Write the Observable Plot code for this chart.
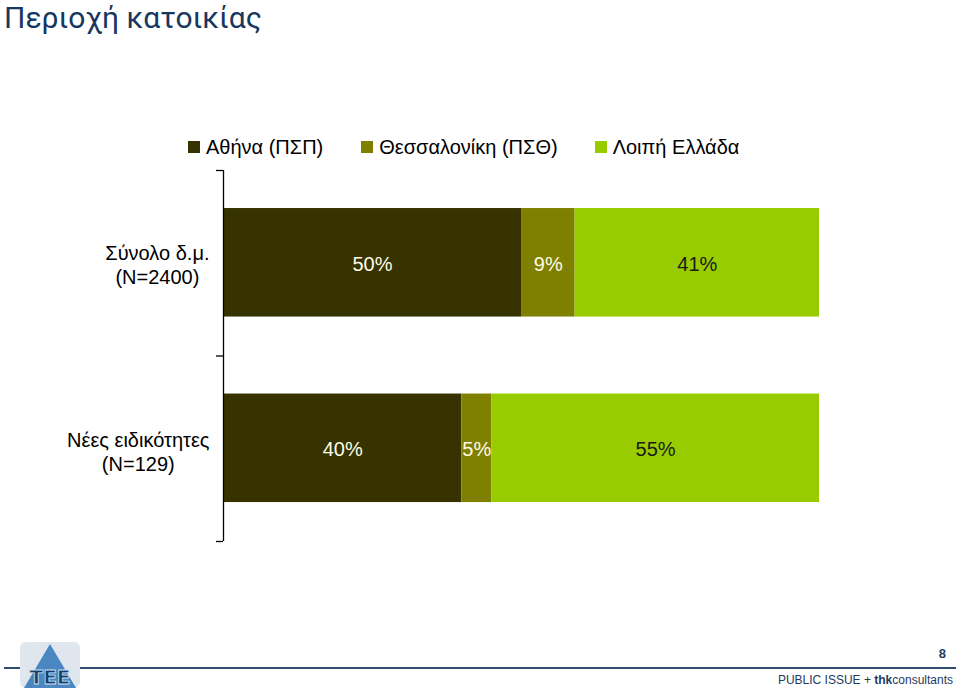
<!DOCTYPE html>
<html>
<head>
<meta charset="utf-8">
<script src="https://cdn.jsdelivr.net/npm/d3@7"></script>
<script src="https://cdn.jsdelivr.net/npm/@observablehq/plot@0.6"></script>
<style>
  html, body { margin: 0; padding: 0; background: #fff; }
  #page { position: relative; width: 960px; height: 691px; overflow: hidden; font-family: "Liberation Sans", Arial, sans-serif; }
  #title { position: absolute; left: 4px; top: 0px; font-family: Roboto, "Noto Sans", sans-serif; font-size: 30px; line-height: normal; color: #17375e; white-space: nowrap; }
  #legend { position: absolute; left: 188px; top: 136px; font-size: 20px; line-height: 22px; color: #000; white-space: nowrap; display: flex; }
  .item { display: flex; align-items: center; }
  .sw { width: 12px; height: 12px; margin-right: 6px; }
  #chart { position: absolute; left: 0; top: 0; }
  #rule { position: absolute; left: 4px; top: 667px; width: 952px; height: 2px; background: #2f4d6e; }
  #pagenum { position: absolute; right: 14px; top: 646px; font-size: 13px; font-weight: bold; color: #1f3a5f; }
  #credit { position: absolute; right: 7px; top: 673px; font-size: 12px; color: #1f3a5f; }
  #logo { position: absolute; left: 18px; top: 640px; width: 64px; height: 50px; }
</style>
</head>
<body>
<div id="page">
  <div id="chart"></div>
  <div id="title">Περιοχή κατοικίας</div>
  <div id="legend"></div>
  <div id="rule"></div>
  <svg id="logo" viewBox="0 0 64 50">
    <rect x="2" y="2" width="60" height="46" rx="6" fill="#dfe6ee"/>
    <polygon points="32,4 58,48 6,48" fill="#4a86c0"/>
    <text x="32" y="44" text-anchor="middle" font-family="DejaVu Sans" font-weight="bold" font-size="20" fill="#173c6b" stroke="#cfe0f0" stroke-width="0.8">ΤΕΕ</text>
  </svg>
  <div id="pagenum">8</div>
  <div id="credit">PUBLIC ISSUE + <b>thk</b>consultants</div>
</div>
<script>
const categories = ["Σύνολο δ.μ.\n(N=2400)", "Νέες ειδικότητες\n(N=129)"];
const seriesNames = ["Αθήνα (ΠΣΠ)", "Θεσσαλονίκη (ΠΣΘ)", "Λοιπή Ελλάδα"];
const athens = [50, 40];
const thessaloniki = [9, 5];
const restOfGreece = [41, 55];
const colors = ["#363300", "#808000", "#99cc00"];
const labelColors = ["#fffbe6", "#fffbe6", "#1a1a1a"];

// legend
const legend = document.getElementById("legend");
const gaps = [38, 37, 0];
seriesNames.forEach((s, i) => {
  const d = document.createElement("div");
  d.className = "item";
  d.style.marginRight = gaps[i] + "px";
  d.innerHTML = `<span class="sw" style="background:${colors[i]}"></span><span>${s}</span>`;
  legend.appendChild(d);
});

// stacked rows
const seriesValues = [athens, thessaloniki, restOfGreece];
const rows = [];
categories.forEach((c, i) => {
  let acc = 0;
  seriesValues.forEach((vals, s) => {
    rows.push({cat: c, idx: i, series: seriesNames[s], sIdx: s, value: vals[i], x1: acc, x2: acc + vals[i]});
    acc += vals[i];
  });
});

// measure label widths to center lines within a right-aligned block
const ctx = document.createElement("canvas").getContext("2d");
ctx.font = '20px "Liberation Sans"';
const labelMarks = categories.map((c, i) => {
  const w = d3.max(c.split("\n"), l => ctx.measureText(l).width);
  return Plot.text([{c, i}], {
    x: () => 0, y: d => d.i + 0.5, text: d => d.c,
    textAnchor: "middle", dx: -(14 + w / 2), dy: 1 + i * 2, lineHeight: 1.2,
    fontSize: 20, fill: "#000", fontFamily: "Liberation Sans, Arial, sans-serif"
  });
});

const chart = Plot.plot({
  width: 960,
  height: 691,
  marginLeft: 223,
  marginRight: 141,
  marginTop: 170,
  marginBottom: 150,
  x: {domain: [0, 100], axis: null},
  y: {domain: [0, 2], reverse: true, axis: null},
  color: {domain: seriesNames, range: colors},
  style: {fontFamily: "Liberation Sans, Arial, sans-serif", background: "transparent"},
  marks: [
    Plot.rect(rows, {x1: "x1", x2: "x2", y1: d => d.idx + 0.205, y2: d => d.idx + 0.79, fill: "series"}),
    Plot.ruleX([0], {stroke: "#000", strokeWidth: 1.3}),
    Plot.axisY({ticks: [0, 1, 2], tickSize: 7, tickFormat: () => "", stroke: "#000", strokeWidth: 1.3}),
    Plot.text(rows, {
      x: d => (d.x1 + d.x2) / 2, y: d => d.idx + 0.5, text: d => d.value + "%",
      fill: d => labelColors[d.sIdx], fontSize: 20, dy: 1
    }),
    ...labelMarks
  ]
});
document.getElementById("chart").appendChild(chart);
</script>
</body>
</html>
